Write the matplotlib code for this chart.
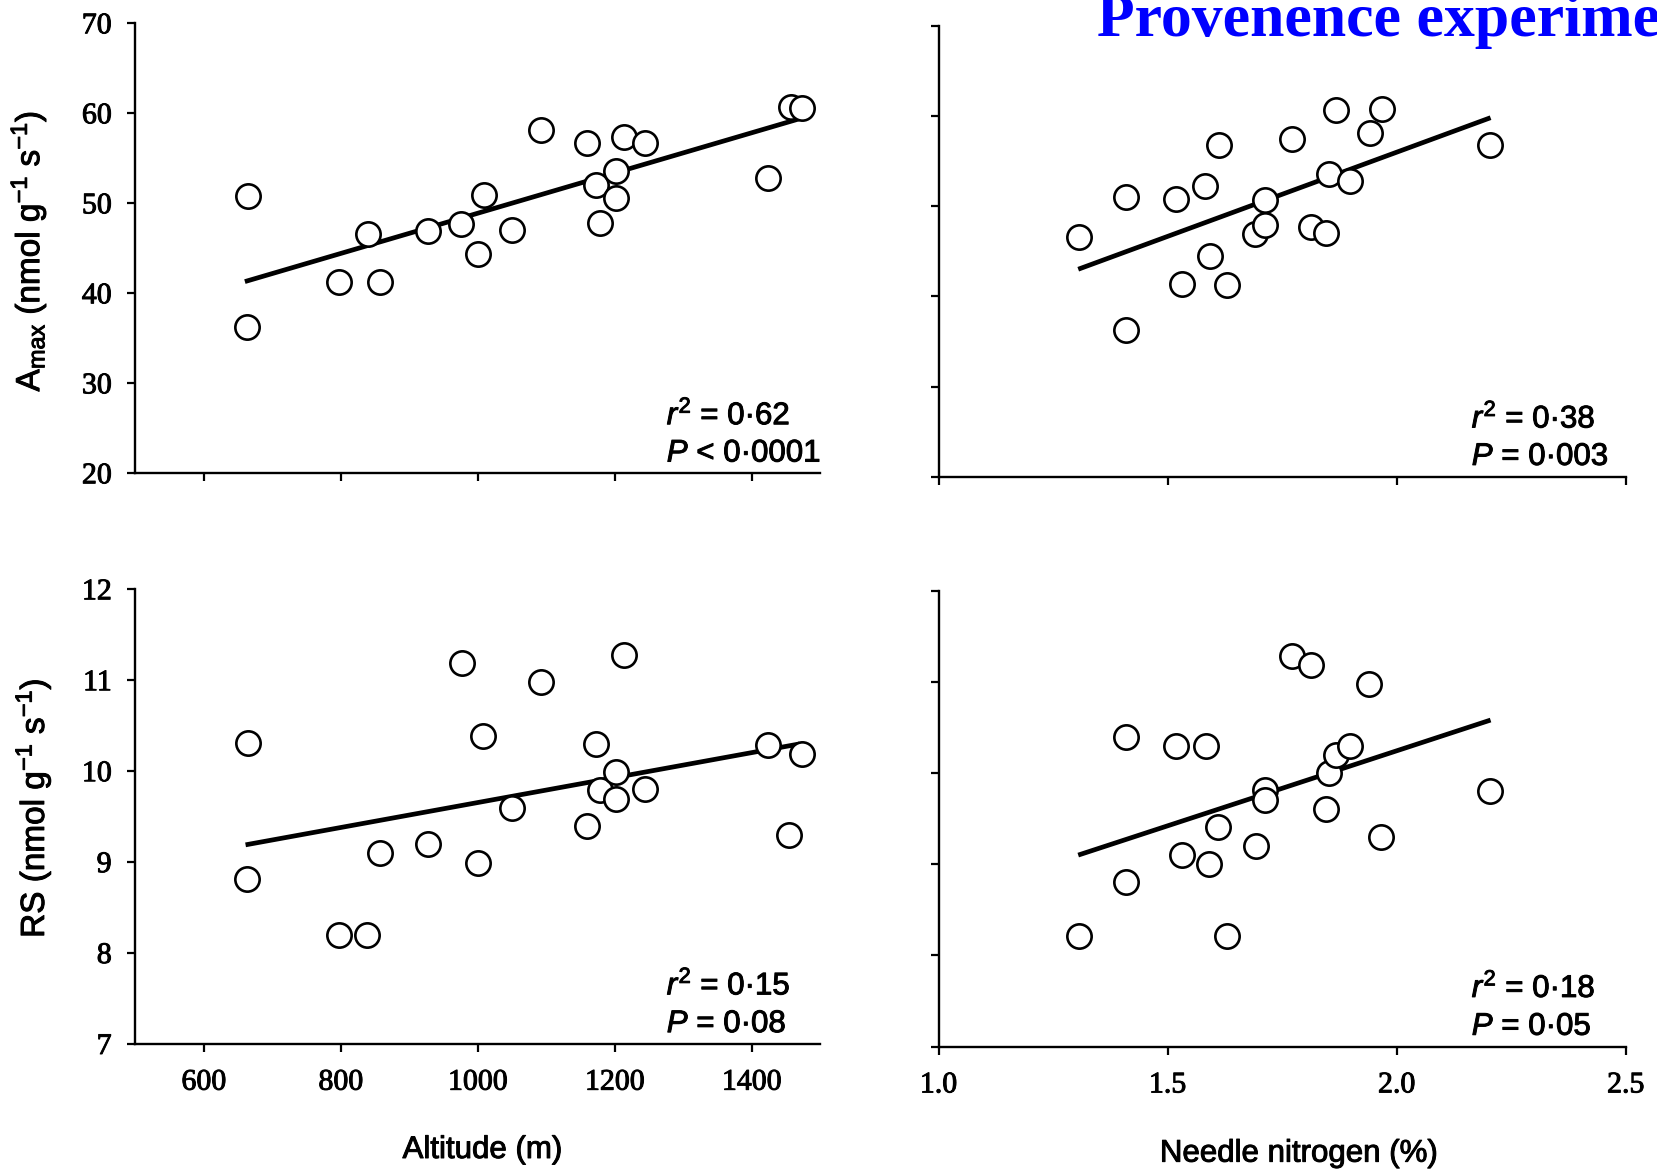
import matplotlib
matplotlib.use("Agg")
import matplotlib.pyplot as plt
import matplotlib.patheffects as pe

plt.rcParams['mathtext.fontset'] = 'custom'
plt.rcParams['mathtext.rm'] = 'Liberation Sans'
plt.rcParams['mathtext.it'] = 'Liberation Sans:italic'
plt.rcParams['mathtext.bf'] = 'Liberation Sans:bold'

# ---------------- data ----------------
# Amax vs altitude
alt_amax = [665, 663, 797, 840, 857, 928, 976, 1001, 1009, 1050, 1093,
            1160, 1172, 1179, 1202, 1202, 1213, 1244, 1424, 1457, 1473]
amax_alt = [50.8, 36.2, 41.2, 46.6, 41.2, 46.9, 47.7, 44.4, 50.9, 47.0, 58.1,
            56.7, 52.0, 47.8, 50.6, 53.6, 57.4, 56.7, 52.8, 60.7, 60.6]
fit_alt_amax_x = [660, 1470]
fit_alt_amax_y = [41.3, 59.4]

# Amax vs needle nitrogen
n_amax = [1.307, 1.409, 1.409, 1.518, 1.531, 1.582, 1.593, 1.612, 1.630, 1.691, 1.713,
          1.713, 1.772, 1.812, 1.846, 1.853, 1.868, 1.898, 1.942, 1.967, 2.204]
amax_n = [46.6, 51.0, 36.3, 50.8, 41.4, 52.2, 44.5, 56.8, 41.3, 46.9, 47.9,
          50.7, 57.4, 47.7, 47.0, 53.6, 60.7, 52.8, 58.1, 60.8, 56.8]
fit_n_amax_x = [1.305, 2.205]
fit_n_amax_y = [43.0, 59.8]

# RS vs altitude
alt_rs = [665, 663, 798, 839, 857, 928, 977, 1000, 1008, 1050, 1092,
          1159, 1172, 1179, 1202, 1202, 1213, 1244, 1424, 1455, 1473]
rs_alt = [10.31, 8.81, 8.20, 8.20, 9.10, 9.20, 11.19, 8.99, 10.39, 9.59, 10.98,
          9.40, 10.30, 9.79, 9.99, 9.69, 11.28, 9.80, 10.29, 9.30, 10.19]
fit_alt_rs_x = [661, 1470]
fit_alt_rs_y = [9.19, 10.30]

# RS vs needle nitrogen
n_rs = [1.307, 1.409, 1.409, 1.518, 1.531, 1.583, 1.591, 1.611, 1.629, 1.692, 1.713,
        1.713, 1.771, 1.813, 1.846, 1.853, 1.868, 1.898, 1.940, 1.966, 2.204]
rs_n = [8.21, 10.39, 8.81, 10.30, 9.10, 10.30, 9.00, 9.41, 8.21, 9.20, 9.81,
        9.70, 11.28, 11.18, 9.60, 10.00, 10.20, 10.30, 10.98, 9.30, 9.80]
fit_n_rs_x = [1.305, 2.205]
fit_n_rs_y = [9.10, 10.58]

alt_ticks = [600, 800, 1000, 1200, 1400]
n_ticks = [1.0, 1.5, 2.0, 2.5]
n_ticklabels = ['1.0', '1.5', '2.0', '2.5']
amax_ticks = [20, 30, 40, 50, 60, 70]
rs_ticks = [7, 8, 9, 10, 11, 12]

stats = {
    'tl': (r'$r^2$ = 0·62', r'$P$ < 0·0001'),
    'tr': (r'$r^2$ = 0·38', r'$P$ = 0·003'),
    'bl': (r'$r^2$ = 0·15', r'$P$ = 0·08'),
    'br': (r'$r^2$ = 0·18', r'$P$ = 0·05'),
}

# ---------------- figure ----------------
W, H = 1657, 1173
fig = plt.figure(figsize=(W / 100, H / 100), dpi=100)


def rect(l, r, t, b):
    return [l / W, (H - b) / H, (r - l) / W, (b - t) / H]


ax_tl = fig.add_axes(rect(135.3, 820.2, 23.3, 473.3))
ax_tr = fig.add_axes(rect(938.5, 1625.7, 25.7, 476.7))
ax_bl = fig.add_axes(rect(135.3, 820.2, 589.3, 1044.0))
ax_br = fig.add_axes(rect(938.5, 1625.7, 590.5, 1046.7))

heavy = [pe.withStroke(linewidth=0.7, foreground='black')]
sans = 'Liberation Sans'


def style(ax):
    for s in ('top', 'right'):
        ax.spines[s].set_visible(False)
    for s in ('left', 'bottom'):
        ax.spines[s].set_linewidth(1.7)
    ax.tick_params(axis='y', direction='out', length=6, width=1.6, pad=11)
    ax.tick_params(axis='x', direction='out', length=5.5, width=1.6, pad=13)
    for lab in ax.get_xticklabels() + ax.get_yticklabels():
        lab.set_fontfamily('Liberation Serif')
        lab.set_fontsize(21.5)
        lab.set_path_effects(heavy)


def panel(ax, x, y, fx, fy, xlim, ylim, xt, yt, xtl, show_x, show_y, key):
    ax.plot(fx, fy, color='black', lw=3.4, solid_capstyle='butt', zorder=2)
    ax.plot(x, y, linestyle='none', marker='o', ms=17.5, mfc='white',
            mec='black', mew=1.9, zorder=3, clip_on=False)
    ax.set_xlim(*xlim)
    ax.set_ylim(*ylim)
    ax.set_xticks(xt)
    ax.set_yticks(yt)
    if show_x:
        ax.set_xticklabels(xtl)
    else:
        ax.set_xticklabels([])
    if show_y:
        ax.set_yticklabels([str(v) for v in yt])
    else:
        ax.set_yticklabels([])
    style(ax)
    t1, t2 = stats[key]
    for txt, yy in ((t1, 0.109), (t2, 0.026)):
        ax.text(0.776, yy, txt, transform=ax.transAxes, ha='left', va='baseline',
                fontsize=22.5, family=sans, path_effects=heavy)


panel(ax_tl, alt_amax, amax_alt, fit_alt_amax_x, fit_alt_amax_y, (500, 1500), (20, 70),
      alt_ticks, amax_ticks, [str(v) for v in alt_ticks], False, True, 'tl')
panel(ax_tr, n_amax, amax_n, fit_n_amax_x, fit_n_amax_y, (1.0, 2.5), (20, 70),
      n_ticks, amax_ticks, n_ticklabels, False, False, 'tr')
panel(ax_bl, alt_rs, rs_alt, fit_alt_rs_x, fit_alt_rs_y, (500, 1500), (7, 12),
      alt_ticks, rs_ticks, [str(v) for v in alt_ticks], True, True, 'bl')
panel(ax_br, n_rs, rs_n, fit_n_rs_x, fit_n_rs_y, (1.0, 2.5), (7, 12),
      n_ticks, rs_ticks, n_ticklabels, True, False, 'br')

# axis labels
ax_tl.set_ylabel(r'$\mathrm{A}_{\mathrm{max}}$ (nmol g$^{-1}$ s$^{-1}$)', fontsize=24,
                 family=sans, path_effects=heavy)
ax_tl.yaxis.label.set_va('baseline')
ax_tl.yaxis.set_label_coords(-0.140, 0.494)

ax_bl.set_ylabel(r'RS (nmol g$^{-1}$ s$^{-1}$)', fontsize=24, family=sans, path_effects=heavy)
ax_bl.yaxis.label.set_va('baseline')
ax_bl.yaxis.set_label_coords(-0.133, 0.519)

ax_bl.set_xlabel('Altitude (m)', fontsize=22.5, family=sans, path_effects=heavy)
ax_bl.xaxis.label.set_va('baseline')
ax_bl.xaxis.set_label_coords(0.507, -0.2507)

ax_br.set_xlabel('Needle nitrogen (%)', fontsize=22.5, family=sans, path_effects=heavy)
ax_br.xaxis.label.set_va('baseline')
ax_br.xaxis.set_label_coords(0.5246, -0.252)

# title (runs off the right edge as in the reference)
fig.text(1097 / W, 1 - 36 / H, 'Provenence experiment', color='#0000ff',
         fontsize=44.5, fontweight='bold', family='Liberation Serif',
         ha='left', va='baseline')

fig.savefig('out.png', dpi=100)
